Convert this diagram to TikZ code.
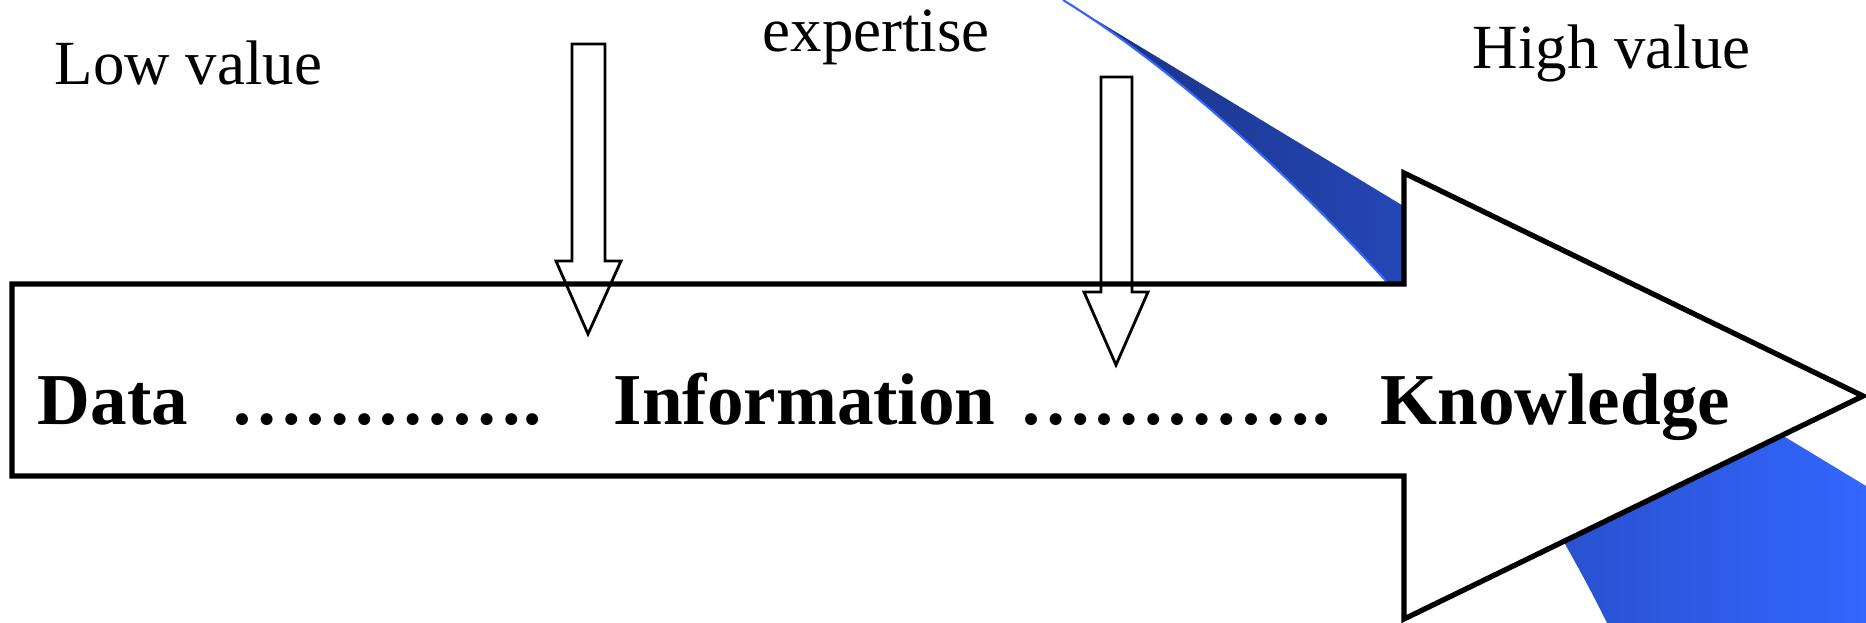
\documentclass[tikz,border=0pt]{standalone}
\usepackage{fontspec}
\setmainfont{Liberation Serif}

\definecolor{swooshdark}{HTML}{1A3080}
\definecolor{swooshlight}{HTML}{3366FF}
\newcommand{\plainsize}{\fontsize{17.9}{21}\selectfont}
\newcommand{\stagesize}{\fontsize{20.8}{25}\selectfont\bfseries}

\begin{document}
\begin{tikzpicture}[x=0.1mm, y=0.1mm]
\tikzstyle{every node}+=[inner sep=0pt]
\tikzstyle{bigarrow}=[black, line width=1.5pt, fill=white]
\tikzstyle{hintarrow}=[black, line width=0.8pt]
\useasboundingbox (0,0) rectangle (1866,-623);
% blue swoosh behind the arrow
\shade [left color=swooshdark, right color=swooshlight] (1063,0) -- (1866,-486) -- (1866,-623) -- (1607,-623) .. controls (1567,-541) and (1467,-370) .. (1387,-282) .. controls (1287,-172) and (1173,-68) .. (1063,0) -- cycle;
\draw [swooshlight, line width=0.6pt] (1063,0) .. controls (1173,-68) and (1287,-172) .. (1387,-282);
% main arrow
\draw [bigarrow] (12,-284) -- (1404,-284) -- (1404,-173) -- (1863,-396) -- (1404,-619) -- (1404,-476) -- (12,-476) -- cycle;
% the two down arrows
\draw [hintarrow] (572,-44) -- (605,-44) -- (605,-261) -- (621,-261) -- (588,-334) -- (556,-261) -- (572,-261) -- cycle;
\draw [hintarrow] (1101,-77) -- (1132,-77) -- (1132,-292) -- (1148,-292) -- (1116,-365) -- (1084,-292) -- (1101,-292) -- cycle;
% labels on top
\draw (54,-84) node [anchor=base west] (lowval) {\plainsize Low value};
\draw (762,-51) node [anchor=base west] (expert) {\plainsize expertise};
\draw (1472,-68) node [anchor=base west] (highval) {\plainsize High value};
% stages along the arrow
\draw (37,-424) node [anchor=base west] (data) {\stagesize Data};
\draw (230,-424) node [anchor=base west] (dotsa) {\stagesize ………….};
\draw (613,-424) node [anchor=base west] (info) {\stagesize Information};
\draw (1019,-424) node [anchor=base west] (dotsb) {\stagesize ………….};
\draw (1380,-424) node [anchor=base west] (know) {\stagesize Knowledge};
\end{tikzpicture}
\end{document}
